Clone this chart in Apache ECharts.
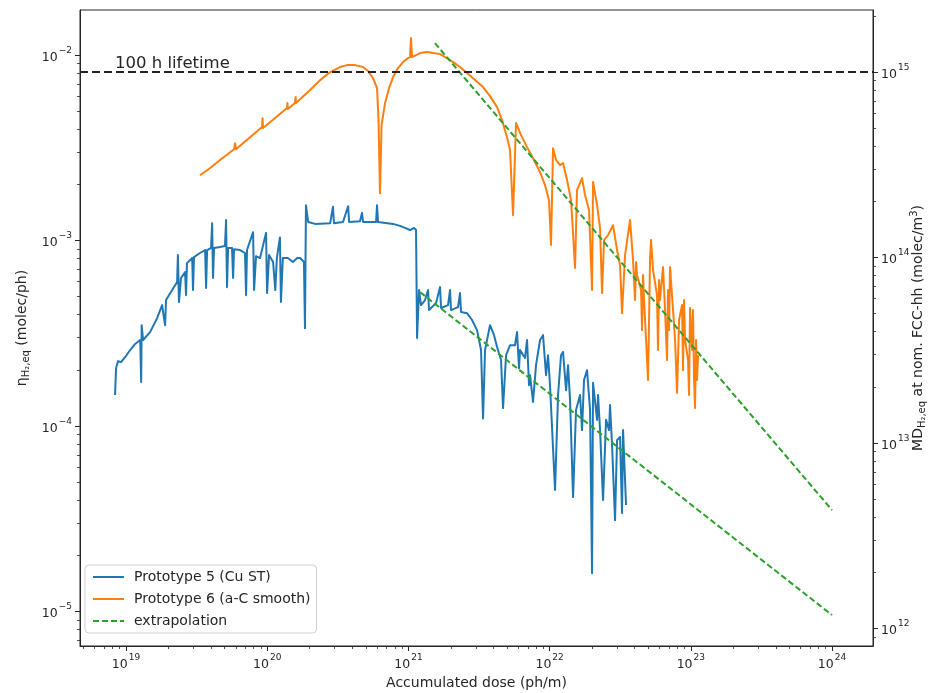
<!DOCTYPE html>
<html>
<head>
<meta charset="utf-8">
<script src="https://cdn.jsdelivr.net/npm/echarts@6/dist/echarts.min.js"></script>
<style>
html, body { margin: 0; padding: 0; background: #fff; }
#chart { width: 935px; height: 693px; }
</style>
</head>
<body>
<div id="chart"></div>
<script>
// Prototype 5 (Cu ST): accumulated dose (ph/m) and desorption yield (molec/ph)
const p5Dose = [
  8.36e18, 8.50e18, 8.78e18, 9.22e18, 9.84e18, 1.07e19, 1.16e19, 1.26e19, 1.28e19, 1.29e19,
  1.32e19, 1.48e19, 1.66e19, 1.80e19, 1.89e19, 1.92e19, 2.12e19, 2.30e19, 2.33e19, 2.37e19,
  2.45e19, 2.62e19, 2.66e19, 2.70e19, 2.94e19, 2.98e19, 3.03e19, 3.34e19, 3.63e19, 3.69e19,
  3.75e19, 4.00e19, 4.07e19, 4.13e19, 4.20e19, 4.63e19, 5.02e19, 5.11e19, 5.19e19, 5.28e19,
  5.63e19, 5.73e19, 5.82e19, 6.42e19, 6.96e19, 7.08e19, 7.19e19, 7.94e19, 8.07e19, 8.33e19,
  8.89e19, 9.81e19, 9.97e19, 1.03e20, 1.10e20, 1.14e20, 1.17e20, 1.23e20, 1.25e20, 1.29e20,
  1.40e20, 1.52e20, 1.63e20, 1.71e20, 1.82e20, 1.85e20, 1.88e20, 1.95e20, 2.18e20, 2.79e20,
  2.92e20, 2.97e20, 3.44e20, 3.74e20, 3.80e20, 4.54e20, 4.69e20, 4.77e20, 5.90e20, 5.99e20,
  6.09e20, 7.78e20, 8.72e20, 9.46e20, 1.026e21, 1.095e21, 1.132e21, 1.151e21, 1.189e21, 1.228e21,
  1.311e21, 1.377e21, 1.399e21, 1.568e21, 1.674e21, 1.702e21, 1.908e21, 1.970e21, 2.003e21, 2.245e21,
  2.319e21, 2.357e21, 2.600e21, 2.821e21, 3.060e21, 3.267e21, 3.376e21, 3.487e21, 3.782e21, 4.038e21,
  4.242e21, 4.527e21, 4.677e21, 4.912e21, 5.243e21, 5.686e21, 5.876e21, 6.070e21, 6.170e21, 6.694e21,
  6.917e21, 7.145e21, 7.263e21, 7.627e21, 8.010e21, 8.551e21, 8.979e21, 9.430e21, 9.741e21, 1.006e22,
  1.092e22, 1.147e22, 1.204e22, 1.244e22, 1.307e22, 1.350e22, 1.395e22, 1.465e22, 1.538e22, 1.642e22,
  1.696e22, 1.752e22, 1.840e22, 1.933e22, 1.997e22, 2.030e22, 2.167e22, 2.202e22, 2.275e22, 2.389e22,
  2.509e22, 2.635e22, 2.677e22, 2.767e22, 2.905e22, 3.002e22, 3.152e22, 3.256e22, 3.310e22, 3.420e22,
  3.476e22
];
const p5Eta = [
  1.47e-4, 2.05e-4, 2.24e-4, 2.21e-4, 2.35e-4, 2.57e-4, 2.77e-4, 2.91e-4, 1.73e-4, 3.50e-4,
  2.91e-4, 3.21e-4, 3.82e-4, 4.49e-4, 3.50e-4, 4.78e-4, 5.41e-4, 5.97e-4, 8.35e-4, 4.66e-4,
  6.28e-4, 6.76e-4, 5.08e-4, 7.56e-4, 8.05e-4, 5.41e-4, 8.15e-4, 8.57e-4, 8.89e-4, 5.55e-4,
  8.89e-4, 9.12e-4, 1.24e-3, 6.28e-4, 9.12e-4, 9.23e-4, 9.34e-4, 1.29e-3, 5.61e-4, 9.12e-4,
  9.12e-4, 6.28e-4, 8.99e-4, 8.89e-4, 8.57e-4, 5.08e-4, 8.89e-4, 1.11e-3, 5.41e-4, 8.24e-4,
  8.05e-4, 1.10e-3, 5.21e-4, 8.35e-4, 7.66e-4, 5.41e-4, 8.05e-4, 1.04e-3, 4.66e-4, 8.05e-4,
  8.05e-4, 7.66e-4, 8.05e-4, 8.05e-4, 7.66e-4, 3.37e-4, 1.55e-3, 1.26e-3, 1.23e-3, 1.24e-3,
  1.52e-3, 1.24e-3, 1.26e-3, 1.53e-3, 1.26e-3, 1.27e-3, 1.41e-3, 1.26e-3, 1.26e-3, 1.55e-3,
  1.26e-3, 1.23e-3, 1.20e-3, 1.17e-3, 1.14e-3, 1.17e-3, 1.14e-3, 2.98e-4, 5.41e-4, 4.49e-4,
  4.78e-4, 5.41e-4, 4.22e-4, 4.60e-4, 5.61e-4, 4.33e-4, 4.49e-4, 5.41e-4, 4.22e-4, 4.38e-4,
  5.21e-4, 4.12e-4, 4.06e-4, 3.73e-4, 3.29e-4, 2.57e-4, 1.10e-4, 2.57e-4, 3.50e-4, 3.09e-4,
  2.67e-4, 2.27e-4, 1.25e-4, 2.41e-4, 2.73e-4, 2.73e-4, 3.21e-4, 2.05e-4, 2.57e-4, 2.33e-4,
  2.91e-4, 1.66e-4, 1.88e-4, 1.35e-4, 2.13e-4, 2.91e-4, 3.09e-4, 1.88e-4, 2.41e-4, 1.66e-4,
  4.52e-5, 1.47e-4, 2.41e-4, 2.51e-4, 1.56e-4, 2.13e-4, 1.38e-4, 4.14e-5, 1.22e-4, 1.47e-4,
  9.51e-5, 1.77e-4, 2.00e-4, 1.22e-4, 1.61e-5, 1.71e-4, 1.08e-4, 1.47e-4, 9.51e-5, 3.99e-5,
  1.08e-4, 9.51e-5, 1.30e-4, 7.90e-5, 3.11e-5, 8.40e-5, 8.73e-5, 3.40e-5, 9.51e-5, 5.12e-5,
  3.75e-5
];

// Prototype 6 (a-C smooth)
const p6Dose = [
  3.34e19, 3.94e19, 4.63e19, 5.82e19, 5.92e19, 6.01e19, 7.55e19, 9.19e19, 9.26e19, 9.34e19,
  1.23e20, 1.38e20, 1.39e20, 1.40e20, 1.57e20, 1.59e20, 1.60e20, 2.01e20, 2.37e20, 2.79e20,
  3.28e20, 3.67e20, 4.19e20, 4.77e20, 5.17e20, 5.61e20, 5.99e20, 6.14e20, 6.29e20, 6.45e20,
  6.83e20, 7.29e20, 7.78e20, 8.44e20, 9.16e20, 9.93e20, 1.026e21, 1.043e21, 1.060e21, 1.132e21,
  1.208e21, 1.354e21, 1.494e21, 1.674e21, 1.877e21, 2.069e21, 2.319e21, 2.600e21, 2.962e21, 3.376e21,
  3.782e21, 4.242e21, 4.601e21, 4.993e21, 5.243e21, 5.506e21, 5.781e21, 6.272e21, 6.916e21, 7.627e21,
  8.551e21, 9.277e21, 9.901e21, 1.023e22, 1.057e22, 1.110e22, 1.185e22, 1.244e22, 1.328e22, 1.418e22,
  1.513e22, 1.563e22, 1.696e22, 1.781e22, 1.901e22, 1.997e22, 2.030e22, 2.167e22, 2.275e22, 2.350e22,
  2.428e22, 2.592e22, 2.812e22, 3.002e22, 3.152e22, 3.256e22, 3.420e22, 3.710e22, 3.896e22, 4.025e22,
  4.092e22, 4.159e22, 4.440e22, 4.512e22, 4.586e22, 4.663e22, 4.817e22, 4.977e22, 5.140e22, 5.225e22,
  5.399e22, 5.762e22, 5.856e22, 5.953e22, 6.052e22, 6.355e22, 6.566e22, 6.784e22, 6.895e22, 7.009e22,
  7.124e22, 7.481e22, 7.731e22, 7.988e22, 8.253e22, 8.664e22, 8.805e22, 8.950e22, 9.099e22, 9.555e22,
  9.710e22, 9.870e22, 1.020e23, 1.036e23, 1.054e23, 1.071e23, 1.089e23, 1.106e23, 1.125e23
];
const p6Eta = [
  2.25e-3, 2.46e-3, 2.72e-3, 3.11e-3, 3.35e-3, 3.11e-3, 3.61e-3, 4.09e-3, 4.57e-3, 4.04e-3,
  4.81e-3, 5.18e-3, 5.51e-3, 5.12e-3, 5.51e-3, 5.94e-3, 5.51e-3, 6.48e-3, 7.33e-3, 8.10e-3,
  8.62e-3, 8.83e-3, 8.83e-3, 8.62e-3, 8.20e-3, 7.52e-3, 6.64e-3, 4.46e-3, 1.80e-3, 4.19e-3,
  5.51e-3, 6.64e-3, 7.61e-3, 8.51e-3, 9.17e-3, 9.63e-3, 9.75e-3, 1.235e-2, 9.75e-3, 1.00e-2,
  1.025e-2, 1.038e-2, 1.025e-2, 1.012e-2, 9.63e-3, 9.17e-3, 8.62e-3, 8.00e-3, 7.33e-3, 6.72e-3,
  6.01e-3, 5.24e-3, 4.46e-3, 3.61e-3, 3.07e-3, 1.37e-3, 4.30e-3, 3.70e-3, 3.19e-3, 2.78e-3,
  2.34e-3, 1.99e-3, 1.65e-3, 9.46e-4, 3.15e-3, 2.72e-3, 2.55e-3, 2.62e-3, 2.12e-3, 1.65e-3,
  7.11e-4, 1.87e-3, 2.17e-3, 1.76e-3, 1.46e-3, 5.41e-4, 2.07e-3, 1.55e-3, 1.17e-3, 5.21e-4,
  1.006e-3, 1.07e-3, 1.21e-3, 8.89e-4, 7.38e-4, 4.06e-4, 8.35e-4, 1.29e-3, 7.85e-4, 4.78e-4,
  7.66e-4, 6.52e-4, 5.41e-4, 3.29e-4, 6.52e-4, 4.78e-4, 2.91e-4, 1.77e-4, 7.85e-4, 1.006e-3,
  6.93e-4, 5.08e-4, 2.57e-4, 6.12e-4, 4.78e-4, 7.20e-4, 4.22e-4, 2.27e-4, 5.41e-4, 3.29e-4,
  7.20e-4, 4.22e-4, 2.91e-4, 1.51e-4, 3.73e-4, 4.49e-4, 2.00e-4, 4.78e-4, 2.91e-4, 2.27e-4,
  1.47e-4, 4.33e-4, 2.57e-4, 4.22e-4, 1.77e-4, 1.25e-4, 2.91e-4, 1.77e-4, 2.41e-4
];

// Power-law extrapolations (end points)
const extrap5Dose = [1.21e21, 1.0e24];
const extrap5Eta = [5.27e-4, 9.57e-6];
const extrap6Dose = [1.54e21, 1.0e24];
const extrap6Eta = [1.16e-2, 3.52e-5];

// 100 h lifetime threshold; it corresponds to an MD of 1e15 molec/m^3
const lifetimeEta = 8.1e-3;
const lifetimeMD = 1e15;

// Axis ranges and decade tick exponents
const doseRange = [4.72e18, 1.95e24];
const etaRange = [6.52e-6, 1.75e-2];
const doseTickExp = [19, 20, 21, 22, 23, 24];
const etaTickExp = [-5, -4, -3, -2];
const mdTickExp = [12, 13, 14, 15];

const FONT = 'DejaVu Sans';
const INK = '#262626';
const lg = Math.log10;

const toLog = (xs, ys) => xs.map((x, i) => [lg(x), lg(ys[i])]);

const xMin = lg(doseRange[0]), xMax = lg(doseRange[1]);
const yMin = lg(etaRange[0]), yMax = lg(etaRange[1]);
const mdShift = lg(lifetimeMD) - lg(lifetimeEta);
const rMin = yMin + mdShift, rMax = yMax + mdShift;

// log-scale minor ticks at 2..9 x 10^n
function minorTicks(lo, hi) {
  const out = [];
  for (let n = Math.floor(lo) - 1; n <= Math.ceil(hi); n++) {
    for (let k = 2; k <= 9; k++) {
      const v = n + lg(k);
      if (v >= lo && v <= hi) out.push(v);
    }
  }
  return out;
}

function expLabel(v) {
  const n = Math.round(v);
  const s = n < 0 ? '\u2212' + (-n) : String(n);
  return '{b|10}{s|' + s + '}';
}
const expRich = {
  b: { fontFamily: FONT, fontSize: 12.5, color: INK, lineHeight: 18, verticalAlign: 'bottom' },
  s: { fontFamily: FONT, fontSize: 9, color: INK, lineHeight: 18, verticalAlign: 'top', padding: [0, 0, 0, 1] }
};

function majorAxis(extra) {
  return Object.assign({
    type: 'value',
    axisLine: { show: true, onZero: false, lineStyle: { color: INK, width: 1 } },
    splitLine: { show: false }
  }, extra);
}
function minorAxis(extra) {
  return Object.assign({
    type: 'value',
    axisLine: { show: false, onZero: false },
    splitLine: { show: false },
    axisLabel: { show: false }
  }, extra);
}
function ticks(values, len, width) {
  return { show: true, inside: false, length: len, customValues: values, lineStyle: { color: INK, width: width } };
}
function labels(values, margin) {
  return { show: true, formatter: expLabel, rich: expRich, margin: margin, customValues: values };
}

const nameRich = {
  t: { fontFamily: FONT, fontSize: 14, color: INK, lineHeight: 18, verticalAlign: 'middle' },
  sub: { fontFamily: FONT, fontSize: 10, color: INK, lineHeight: 18, verticalAlign: 'bottom' },
  sup: { fontFamily: FONT, fontSize: 10, color: INK, lineHeight: 18, verticalAlign: 'top' }
};

const chart = echarts.init(document.getElementById('chart'), null, { renderer: 'canvas' });

const option = {
  animation: false,
  backgroundColor: '#ffffff',
  grid: {
    left: 80, right: 62, top: 10, bottom: 47,
    containLabel: false, outerBoundsMode: 'none',
    show: true, borderColor: INK, borderWidth: 1, backgroundColor: 'transparent'
  },
  xAxis: [
    majorAxis({
      position: 'bottom', min: xMin, max: xMax,
      axisTick: ticks(doseTickExp, 5, 1),
      axisLabel: labels(doseTickExp, 7),
      name: 'Accumulated dose (ph/m)', nameLocation: 'middle', nameGap: 26,
      nameTextStyle: { fontFamily: FONT, fontSize: 14, color: INK }
    }),
    minorAxis({
      position: 'bottom', min: xMin, max: xMax,
      axisTick: ticks(minorTicks(xMin, xMax), 3, 0.8)
    })
  ],
  yAxis: [
    majorAxis({
      position: 'left', min: yMin, max: yMax,
      axisTick: ticks(etaTickExp, 5, 1),
      axisLabel: labels(etaTickExp, 8),
      name: '{t|\u03b7}{sub|H\u2082,eq}{t| (molec/ph)}', nameLocation: 'middle', nameGap: 49, nameRotate: 90,
      nameTextStyle: { fontFamily: FONT, fontSize: 14, color: INK, rich: nameRich }
    }),
    minorAxis({
      position: 'left', min: yMin, max: yMax,
      axisTick: ticks(minorTicks(yMin, yMax), 3, 0.8)
    }),
    majorAxis({
      position: 'right', min: rMin, max: rMax,
      axisTick: ticks(mdTickExp, 5, 1),
      axisLabel: labels(mdTickExp, 8),
      name: '{t|MD}{sub|H\u2082,eq}{t| at nom. FCC-hh (molec/m}{sup|3}{t|)}', nameLocation: 'middle',
      nameGap: 36, nameRotate: 90, nameMoveOverlap: false,
      nameTextStyle: { fontFamily: FONT, fontSize: 14, color: INK, rich: nameRich }
    }),
    minorAxis({
      position: 'right', min: rMin, max: rMax,
      axisTick: ticks(minorTicks(rMin, rMax), 3, 0.8)
    })
  ],
  legend: {
    data: ['Prototype 5 (Cu ST)', 'Prototype 6 (a-C smooth)', 'extrapolation'],
    orient: 'vertical', left: 85, top: 565,
    itemWidth: 31, itemHeight: 12, itemGap: 8,
    itemStyle: { opacity: 0 },
    backgroundColor: 'rgba(255,255,255,0.8)', borderColor: '#d0d0d0', borderWidth: 1, borderRadius: 4,
    padding: [5, 6, 5, 7],
    textStyle: { fontFamily: FONT, fontSize: 14, color: INK, padding: [0, 0, 0, 5] },
    selectedMode: false
  },
  series: [
    {
      name: 'Prototype 5 (Cu ST)', type: 'line', xAxisIndex: 0, yAxisIndex: 0,
      data: toLog(p5Dose, p5Eta), symbol: 'none', z: 2,
      lineStyle: { color: '#1f77b4', width: 2, join: 'round' }, itemStyle: { color: '#1f77b4' }
    },
    {
      name: 'Prototype 6 (a-C smooth)', type: 'line', xAxisIndex: 0, yAxisIndex: 0,
      data: toLog(p6Dose, p6Eta), symbol: 'none', z: 3,
      lineStyle: { color: '#ff7f0e', width: 2, join: 'round' }, itemStyle: { color: '#ff7f0e' }
    },
    {
      name: 'extrapolation', type: 'line', xAxisIndex: 0, yAxisIndex: 0,
      data: toLog(extrap6Dose, extrap6Eta), symbol: 'none', z: 4,
      lineStyle: { color: '#2ca02c', width: 2, type: [6, 3] }, itemStyle: { color: '#2ca02c' }
    },
    {
      name: 'extrapolation', type: 'line', xAxisIndex: 0, yAxisIndex: 0,
      data: toLog(extrap5Dose, extrap5Eta), symbol: 'none', z: 4,
      lineStyle: { color: '#2ca02c', width: 2, type: [6, 3] }, itemStyle: { color: '#2ca02c' }
    },
    {
      name: 'lifetime', type: 'line', xAxisIndex: 0, yAxisIndex: 0, data: [], z: 5,
      markLine: {
        silent: true, symbol: 'none', animation: false,
        lineStyle: { color: '#222', width: 2, type: [8, 4] },
        label: {
          show: true, formatter: '100 h lifetime', position: 'insideStartTop', distance: 0,
          padding: [0, 0, 0, 35], fontFamily: FONT, fontSize: 16.5, color: INK
        },
        data: [{ yAxis: lg(lifetimeEta) }]
      }
    }
  ]
};

chart.setOption(option);
</script>
</body>
</html>
